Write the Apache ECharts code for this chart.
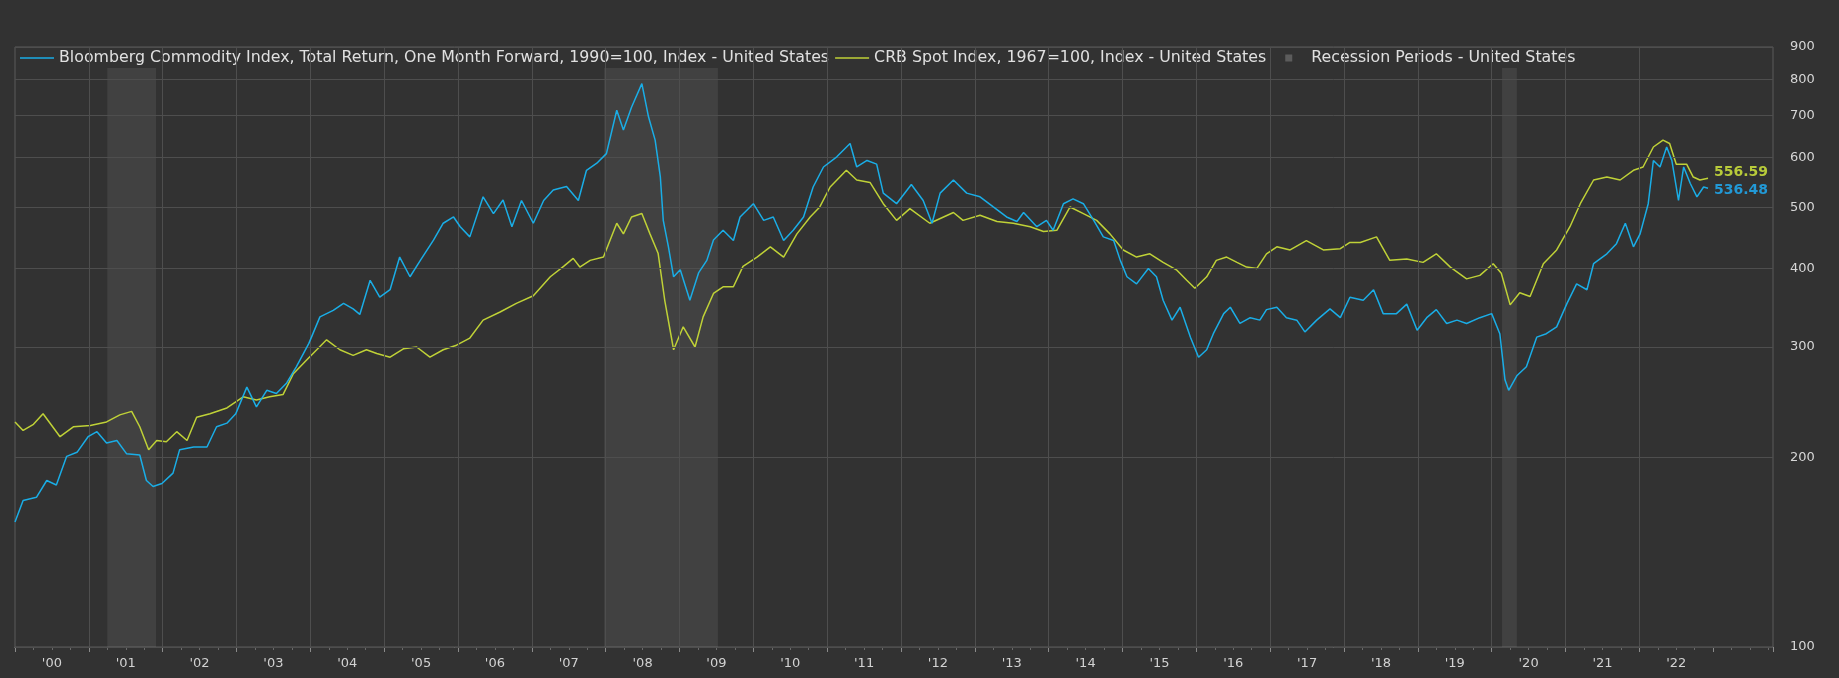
<!DOCTYPE html>
<html>
<head>
<meta charset="utf-8">
<script src="https://cdn.jsdelivr.net/npm/echarts@6/dist/echarts.min.js"></script>
<style>
html,body{margin:0;padding:0;background:#323232;}
#c{width:1839px;height:678px;}
</style>
</head>
<body>
<div id="c"></div>
<script>
// ---- data (decimal years, index values) ----
const seriesNames = [
  'Bloomberg Commodity Index, Total Return, One Month Forward, 1990=100, Index - United States',
  'CRB Spot Index, 1967=100, Index - United States',
  'Recession Periods - United States'
];

const bcomDates = [2000.00,2000.11,2000.29,2000.43,2000.56,2000.70,2000.84,2000.99,2001.11,2001.24,2001.38,2001.51,2001.69,2001.78,2001.87,2001.99,
2002.14,2002.23,2002.42,2002.60,2002.73,2002.87,2002.99,2003.14,2003.27,2003.41,2003.54,2003.68,2003.81,2003.98,
2004.13,2004.31,2004.45,2004.58,2004.67,2004.81,2004.94,2005.08,2005.21,2005.35,2005.49,2005.67,2005.80,2005.94,
2006.03,2006.16,2006.34,2006.48,2006.61,2006.73,2006.86,2007.02,2007.16,2007.29,2007.47,2007.63,2007.74,2007.88,
2008.01,2008.15,2008.24,2008.35,2008.49,2008.58,2008.67,2008.74,2008.78,2008.85,2008.92,2009.01,2009.14,2009.26,
2009.37,2009.46,2009.59,2009.73,2009.82,2010.00,2010.14,2010.27,2010.41,2010.54,2010.68,2010.81,2010.95,2011.13,
2011.31,2011.40,2011.54,2011.67,2011.76,2011.94,2012.14,2012.30,2012.42,2012.53,2012.71,2012.89,2013.07,2013.25,
2013.43,2013.57,2013.66,2013.84,2013.97,2014.06,2014.20,2014.33,2014.47,2014.61,2014.74,2014.88,2014.97,2015.06,
2015.19,2015.35,2015.46,2015.55,2015.67,2015.78,2015.92,2016.03,2016.14,2016.23,2016.37,2016.46,2016.59,2016.73,
2016.86,2016.95,2017.09,2017.22,2017.36,2017.47,2017.63,2017.81,2017.95,2018.08,2018.26,2018.40,2018.53,2018.71,
2018.85,2018.99,2019.12,2019.25,2019.39,2019.53,2019.66,2019.84,2020.00,2020.11,2020.18,2020.23,2020.34,2020.47,
2020.61,2020.74,2020.88,2021.02,2021.15,2021.29,2021.38,2021.56,2021.69,2021.81,2021.92,2022.01,2022.12,2022.19,
2022.28,2022.37,2022.44,2022.53,2022.60,2022.69,2022.78,2022.87,2022.93];
const bcomValues = [158,171,173,184,181,201,204,216,220,211,213,203,202,184,180,182,
189,206,208,208,224,227,235,259,241,256,253,263,279,304,
335,343,352,345,338,383,360,370,417,388,412,444,472,483,
466,449,520,489,514,466,513,472,513,533,540,513,573,588,
609,714,664,722,787,697,640,560,477,433,388,398,356,394,
412,444,460,443,483,507,477,483,443,460,483,539,580,602,
632,580,594,586,527,507,544,513,472,527,553,527,520,501,
483,475,491,466,477,460,507,516,507,477,449,443,412,388,
378,400,388,356,331,347,311,289,297,315,339,347,327,334,
331,344,347,334,331,317,331,345,334,360,356,370,339,339,
351,319,334,344,327,331,327,334,339,315,266,256,270,279,
311,315,323,352,378,370,407,422,438,472,433,454,507,594,
580,624,594,513,580,546,520,539,536.48];

const crbDates = [2000.00,2000.11,2000.25,2000.38,2000.61,2000.79,2001.02,2001.24,2001.42,2001.58,2001.69,2001.81,2001.92,
2002.05,2002.19,2002.33,2002.46,2002.64,2002.87,2003.09,2003.27,2003.45,2003.63,2003.77,2003.95,2004.22,2004.40,
2004.58,2004.76,2004.90,2005.08,2005.26,2005.44,2005.62,2005.80,2005.98,2006.16,2006.34,2006.57,2006.79,2007.02,
2007.25,2007.43,2007.56,2007.65,2007.79,2007.97,2008.15,2008.24,2008.35,2008.49,2008.60,2008.71,2008.80,2008.92,
2009.05,2009.21,2009.32,2009.46,2009.59,2009.73,2009.86,2010.05,2010.23,2010.41,2010.59,2010.77,2010.90,2011.04,
2011.26,2011.40,2011.58,2011.76,2011.94,2012.12,2012.39,2012.71,2012.84,2013.07,2013.30,2013.52,2013.75,2013.93,
2014.11,2014.29,2014.47,2014.65,2014.83,2015.01,2015.19,2015.37,2015.55,2015.73,2015.87,2015.98,2016.14,2016.27,
2016.41,2016.55,2016.68,2016.82,2016.95,2017.09,2017.27,2017.49,2017.72,2017.95,2018.08,2018.22,2018.44,2018.62,
2018.85,2019.07,2019.25,2019.44,2019.66,2019.84,2020.02,2020.13,2020.25,2020.38,2020.52,2020.70,2020.88,2021.06,
2021.20,2021.38,2021.56,2021.74,2021.92,2022.05,2022.19,2022.32,2022.41,2022.50,2022.64,2022.73,2022.82,2022.93];
const crbValues = [228,221,226,235,216,224,225,228,234,237,224,206,213,
212,220,213,232,235,240,250,247,250,252,272,286,308,297,
291,297,293,289,298,300,289,297,302,310,331,341,352,362,
388,403,415,402,412,417,472,454,483,489,454,423,356,297,
323,300,335,365,374,374,403,417,433,417,454,483,501,539,
573,553,548,507,477,498,472,491,477,486,475,472,466,458,
460,501,489,477,454,428,417,422,409,398,383,372,388,412,
417,409,402,400,422,433,428,443,428,430,440,440,449,412,
414,409,422,402,385,390,407,393,350,366,361,407,428,466,
507,553,559,553,573,580,624,640,632,586,586,559,553,556.59];

const recessionStarts = [2001.25, 2007.98, 2020.14];
const recessionEnds   = [2001.91, 2009.52, 2020.34];
const yTicks = [100, 200, 300, 400, 500, 600, 700, 800, 900];
const yearLines = [2001,2002,2003,2004,2005,2006,2007,2008,2009,2010,2011,2012,2013,2014,2015,2016,2017,2018,2019,2020,2021,2022];
const xTickLabels = ["'00","'01","'02","'03","'04","'05","'06","'07","'08","'09","'10","'11","'12","'13","'14","'15","'16","'17","'18","'19","'20","'21","'22"];

// ---- chart ----
const BLUE = '#1aade6', GREEN = '#bfd137', GRID = '#4e4e4e';
const FONT = 'DejaVu Sans';
const chart = echarts.init(document.getElementById('c'), null, {renderer: 'canvas'});

const lineIcon = 'path://M0,0M34,10M0,4.3L34,4.3L34,5.7L0,5.7Z';
const boxIcon = 'path://M0,0M34,10M13,1.5L20,1.5L20,8.5L13,8.5Z';

chart.setOption({
  backgroundColor: '#323232',
  animation: false,
  grid: {left: 15, right: 66, top: 47, bottom: 31, show: true, borderColor: '#5a5a5a', borderWidth: 1, backgroundColor: 'transparent'},
  legend: {
    left: 16, top: 48, padding: [2, 4], backgroundColor: '#323232',
    itemWidth: 34, itemHeight: 10, itemGap: 6,
    textStyle: {color: '#e0e0e0', fontSize: 15.8, fontFamily: FONT},
    data: [
      {name: seriesNames[0], icon: lineIcon},
      {name: seriesNames[1], icon: lineIcon},
      {name: seriesNames[2], icon: boxIcon}
    ]
  },
  xAxis: [
    {
      type: 'value', min: 2000, max: 2023.81, interval: 1,
      axisLine: {show: true, lineStyle: {color: '#a8a8a8', width: 1}},
      axisTick: {show: true, length: 5, lineStyle: {color: '#8a8a8a'}},
      minorTick: {show: true, splitNumber: 4, length: 3, lineStyle: {color: '#6a6a6a'}},
      axisLabel: {show: false},
      splitLine: {show: false}
    },
    {
      type: 'value', min: 2000, max: 2023.81, interval: 0.5, position: 'bottom',
      axisLine: {show: false}, axisTick: {show: false}, splitLine: {show: false},
      axisLabel: {
        show: true, margin: 10, color: '#d2d2d2', fontSize: 13, fontFamily: FONT,
        formatter: function (v) {
          const f = v - Math.floor(v);
          if (Math.abs(f - 0.5) < 1e-6) {
            const lab = xTickLabels[Math.floor(v) - 2000];
            return lab || '';
          }
          return '';
        }
      }
    }
  ],
  yAxis: {
    type: 'log', logBase: 10, min: 100, max: 900,
    axisLine: {show: false}, axisTick: {show: false}, axisLabel: {show: false}, splitLine: {show: false}
  },
  series: [
    {
      name: seriesNames[2], type: 'line', data: [], color: '#5c5c5c', z: 1,
      itemStyle: {color: '#5c5c5c'},
      markArea: {
        silent: true,
        itemStyle: {color: 'rgba(255,255,255,0.075)'},
        data: recessionStarts.map((s, i) => [{xAxis: s}, {xAxis: recessionEnds[i]}])
      }
    },
    {
      name: 'vgrid', type: 'line', data: [], z: 1,
      markLine: {
        silent: true, symbol: ['none', 'none'], animation: false,
        lineStyle: {color: GRID, type: 'solid', width: 1},
        label: {show: false},
        data: yearLines.map(y => ({xAxis: y}))
      }
    },
    {
      name: 'hgrid', type: 'line', data: [], z: 1,
      markLine: {
        silent: true, symbol: ['none', 'none'], animation: false,
        lineStyle: {color: GRID, type: 'solid', width: 1},
        label: {
          show: true, position: 'end', distance: 17, color: '#d6d6d6', fontSize: 13, fontFamily: FONT,
          formatter: p => String(p.value)
        },
        data: yTicks.map(v => ({yAxis: v}))
      }
    },
    {
      name: seriesNames[1], type: 'line', z: 4, color: GREEN,
      showSymbol: false, symbol: 'none',
      lineStyle: {color: GREEN, width: 1.5},
      itemStyle: {color: GREEN},
      data: crbDates.map((t, i) => [t, crbValues[i]]),
      endLabel: {
        show: true, distance: 6, offset: [0, -6],
        formatter: p => p.value[1].toFixed(2),
        color: '#b8cb3a', fontSize: 14, fontWeight: 'bold', fontFamily: FONT
      }
    },
    {
      name: seriesNames[0], type: 'line', z: 5, color: BLUE,
      showSymbol: false, symbol: 'none',
      lineStyle: {color: BLUE, width: 1.5},
      itemStyle: {color: BLUE},
      data: bcomDates.map((t, i) => [t, bcomValues[i]]),
      endLabel: {
        show: true, distance: 6, offset: [0, 2],
        formatter: p => p.value[1].toFixed(2),
        color: '#2299d6', fontSize: 14, fontWeight: 'bold', fontFamily: FONT
      }
    }
  ]
});
</script>
</body>
</html>
